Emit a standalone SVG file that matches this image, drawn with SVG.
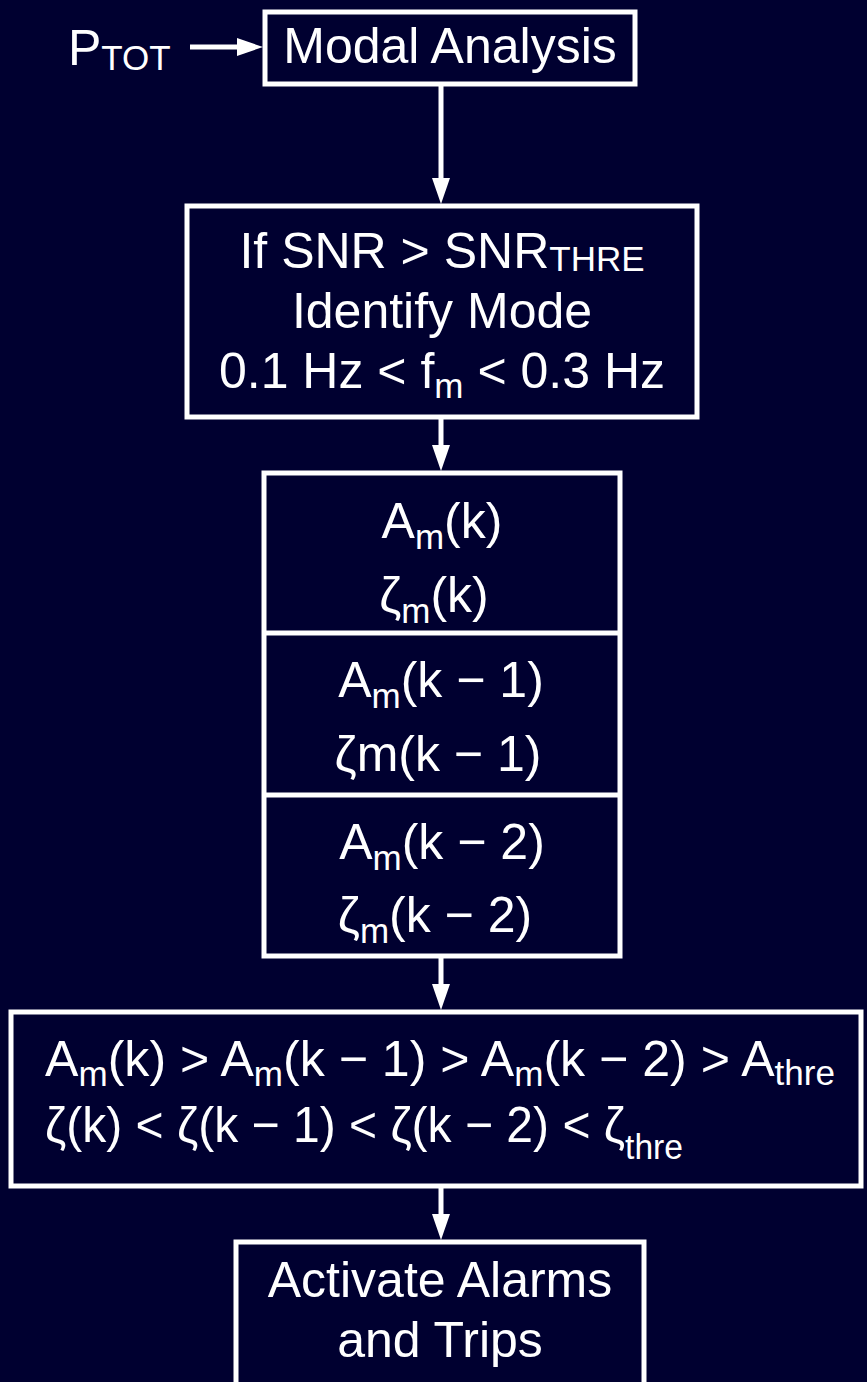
<svg xmlns="http://www.w3.org/2000/svg" width="867" height="1382" viewBox="0 0 867 1382">
<style>
.box{fill:none;stroke:#fff;stroke-width:5}
.t{font-family:"Liberation Sans",Arial,sans-serif;fill:#fff;font-size:50px}
.c{text-anchor:middle}
.s{font-size:35px}
.conn{stroke:#fff;stroke-width:5;fill:none}
</style>
<defs>
<marker id="ah" markerUnits="userSpaceOnUse" viewBox="0 0 26 18" markerWidth="26" markerHeight="18" refX="0" refY="9" orient="auto"><path d="M0,0 L26,9 L0,18 z" fill="#fff"/></marker>
</defs>
<rect width="867" height="1382" fill="#000030"/>
<g id="connectors">
<path class="conn" d="M190,47 H237" marker-end="url(#ah)"/>
<path class="conn" d="M441,84 V178" marker-end="url(#ah)"/>
<path class="conn" d="M441,417 V445" marker-end="url(#ah)"/>
<path class="conn" d="M441,956 V984" marker-end="url(#ah)"/>
<path class="conn" d="M441,1186 V1214" marker-end="url(#ah)"/>
</g>
<g id="input">
<text class="t" x="68" y="65">P<tspan class="s" dy="5">TOT</tspan></text>
</g>
<g id="modal">
<rect class="box" x="265" y="12" width="370" height="72"/>
<text class="t c" x="450" y="63">Modal Analysis</text>
</g>
<g id="identify">
<rect class="box" x="187" y="206" width="510" height="211"/>
<text class="t c" x="442" y="268">If SNR &gt; SNR<tspan class="s" dy="3">THRE</tspan></text>
<text class="t c" x="442" y="328">Identify Mode</text>
<text class="t c" x="442" y="388">0.1 Hz &lt; f<tspan class="s" dy="10">m</tspan><tspan dy="-10"> &lt; 0.3 Hz</tspan></text>
</g>
<g id="history">
<rect class="box" x="264" y="473" width="356" height="483"/>
<line class="conn" x1="264" y1="633" x2="620" y2="633"/>
<line class="conn" x1="264" y1="795" x2="620" y2="795"/>
<text class="t c" x="442" y="538">A<tspan class="s" dy="11">m</tspan><tspan dy="-11">(k)</tspan></text>
<text class="t c" x="434" y="612">ζ<tspan class="s" dy="11">m</tspan><tspan dy="-11">(k)</tspan></text>
<text class="t c" x="441" y="697">A<tspan class="s" dy="11">m</tspan><tspan dy="-11">(k − 1)</tspan></text>
<text class="t c" x="438" y="771">ζm(k − 1)</text>
<text class="t c" x="442" y="859">A<tspan class="s" dy="11">m</tspan><tspan dy="-11">(k − 2)</tspan></text>
<text class="t c" x="435" y="932">ζ<tspan class="s" dy="11">m</tspan><tspan dy="-11">(k − 2)</tspan></text>
</g>
<g id="condition">
<rect class="box" x="11" y="1012" width="850" height="174"/>
<text class="t" x="45" y="1076" textLength="790" lengthAdjust="spacingAndGlyphs">A<tspan class="s" dy="10">m</tspan><tspan dy="-10">(k) &gt; A</tspan><tspan class="s" dy="10">m</tspan><tspan dy="-10">(k − 1) &gt; A</tspan><tspan class="s" dy="10">m</tspan><tspan dy="-10">(k − 2) &gt; A</tspan><tspan class="s" dy="9">thre</tspan></text>
<text class="t" x="45" y="1142" textLength="638" lengthAdjust="spacingAndGlyphs">ζ(k) &lt; ζ(k − 1) &lt; ζ(k − 2) &lt; ζ<tspan class="s" dy="17">thre</tspan></text>
</g>
<g id="alarms">
<rect class="box" x="236" y="1242" width="408" height="160"/>
<text class="t c" x="440" y="1297">Activate Alarms</text>
<text class="t c" x="440" y="1357">and Trips</text>
</g>
</svg>
